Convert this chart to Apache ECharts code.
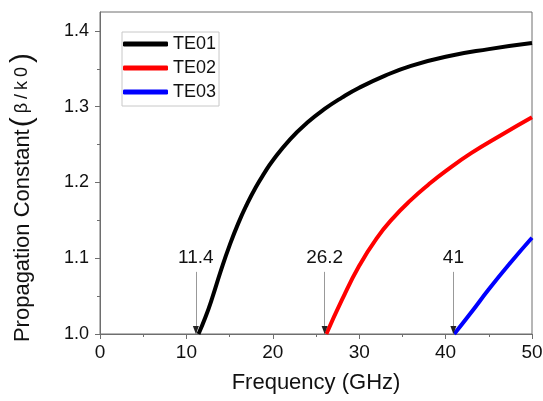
<!DOCTYPE html>
<html>
<head>
<meta charset="utf-8">
<script src="https://cdn.jsdelivr.net/npm/echarts@6/dist/echarts.min.js"></script>
<style>html,body{margin:0;padding:0;background:#fff}#c{width:543px;height:401px}</style>
</head>
<body>
<div id="c"></div>
<script>
// ---- data (frequency GHz, beta/k0) ----
const seriesNames = ['TE01', 'TE02', 'TE03'];
const te01 = [[11.4,1.0],[12.2,1.022],[13,1.048],[14,1.084],[15,1.117],[16,1.146],[17,1.171],[18,1.193],[19,1.212],[20,1.229],[22,1.257],[24,1.279],[26,1.297],[28,1.312],[30,1.325],[33,1.341],[36,1.354],[40,1.366],[45,1.376],[50,1.384]];
const te02 = [[26.2,1.0],[28,1.045],[30,1.090],[32,1.126],[34,1.154],[36,1.177],[38,1.197],[40,1.215],[43,1.239],[46.5,1.263],[50,1.286]];
const te03 = [[41,1.0],[43,1.029],[45,1.059],[47.5,1.094],[50,1.127]];
const cutoffLabels = ['11.4', '26.2', '41'];
const cutoffX = [11.1, 26.0, 40.9];
const arrowTop = 1.082;
const yMajorTicks = [1.0, 1.1, 1.2, 1.3, 1.4];
const yMinorTicks = [1.05, 1.15, 1.25, 1.35];
const colors = ['#000000', '#ff0000', '#0000ff'];

const FONT = "'Liberation Sans', Arial, sans-serif";
const AXIS_COLOR = '#6e6e6e';

const chart = echarts.init(document.getElementById('c'), null, {renderer: 'canvas'});

const arrowData = cutoffX.map((x, i) => [
  {coord: [x, arrowTop], label: {formatter: cutoffLabels[i]}},
  {coord: [x, 1.0]}
]);
const arrowHeads = cutoffX.map(x => ({coord: [x, 1.0]}));

const lineSeries = [te01, te02, te03].map((d, i) => ({
  name: seriesNames[i],
  type: 'line',
  data: d,
  smooth: 0.5,
  showSymbol: false,
  symbol: 'none',
  lineStyle: {color: colors[i], width: 4},
  itemStyle: {color: colors[i]},
  z: 3
}));

lineSeries[0].markLine = {
  silent: true,
  symbol: ['none', 'none'],
  lineStyle: {color: '#999', width: 1, type: 'solid'},
  label: {show: true, position: 'start', distance: 5, fontFamily: FONT, fontSize: 19, color: '#111'},
  emphasis: {disabled: true},
  data: arrowData,
  animation: false
};
lineSeries[0].markPoint = {
  silent: true,
  symbol: 'triangle',
  symbolSize: [6, 8],
  symbolRotate: 180,
  symbolOffset: [0, -4],
  itemStyle: {color: '#222'},
  label: {show: false},
  data: arrowHeads,
  animation: false
};

const option = {
  animation: false,
  textStyle: {fontFamily: FONT},
  grid: {left: 100, right: 11, top: 12, bottom: 67, outerBoundsMode: 'none', containLabel: false,
    show: true, borderColor: AXIS_COLOR, borderWidth: 1, backgroundColor: 'transparent'},
  legend: {
    orient: 'vertical',
    left: 122, top: 32,
    padding: [3, 3, 5, 1],
    itemGap: 6,
    itemWidth: 45, itemHeight: 5,
    icon: 'roundRect',
    borderColor: '#c8c8c8', borderWidth: 1,
    backgroundColor: '#fff',
    textStyle: {fontFamily: FONT, fontSize: 18, color: '#111'},
    data: seriesNames
  },
  xAxis: {
    type: 'value', min: 0, max: 50, interval: 10,
    name: 'Frequency (GHz)', nameLocation: 'middle', nameGap: 38,
    nameTextStyle: {fontFamily: FONT, fontSize: 22, color: '#111'},
    axisLine: {show: true, onZero: false, lineStyle: {color: AXIS_COLOR, width: 1}},
    axisTick: {show: true, inside: false, length: 5, lineStyle: {color: AXIS_COLOR}},
    minorTick: {show: true, splitNumber: 2, length: 3, lineStyle: {color: AXIS_COLOR}},
    axisLabel: {fontFamily: FONT, fontSize: 19, color: '#111', margin: 9},
    splitLine: {show: false}
  },
  yAxis: [{
    type: 'value', min: 1.0, max: 1.425, interval: 0.1,
    name: 'Propagation Constant{l|(}{s|β}{s|/}{s|k}{s|0}{l|)}', nameLocation: 'middle', nameGap: 62, nameRotate: 90,
    nameTextStyle: {
      fontFamily: FONT, fontSize: 22, color: '#111',
      padding: [0, 47, 0, 0],
      rich: {
        l: {fontFamily: FONT, fontSize: 30, color: '#111', padding: [0, 2, 0, 2]},
        s: {fontFamily: FONT, fontSize: 18, color: '#111', padding: [0, 2, 2, 2]}
      }
    },
    axisLine: {show: true, onZero: false, lineStyle: {color: AXIS_COLOR, width: 1}},
    axisTick: {show: true, inside: false, length: 5, customValues: yMajorTicks, lineStyle: {color: AXIS_COLOR}},
    axisLabel: {fontFamily: FONT, fontSize: 18, color: '#111', margin: 11, customValues: yMajorTicks,
      formatter: v => v.toFixed(1)},
    splitLine: {show: false}
  }, {
    type: 'value', min: 1.0, max: 1.425, position: 'left',
    axisLine: {show: false},
    axisTick: {show: true, inside: false, length: 3, customValues: yMinorTicks, lineStyle: {color: AXIS_COLOR}},
    axisLabel: {show: false},
    splitLine: {show: false}
  }],
  series: lineSeries
};
chart.setOption(option);
</script>
</body>
</html>
